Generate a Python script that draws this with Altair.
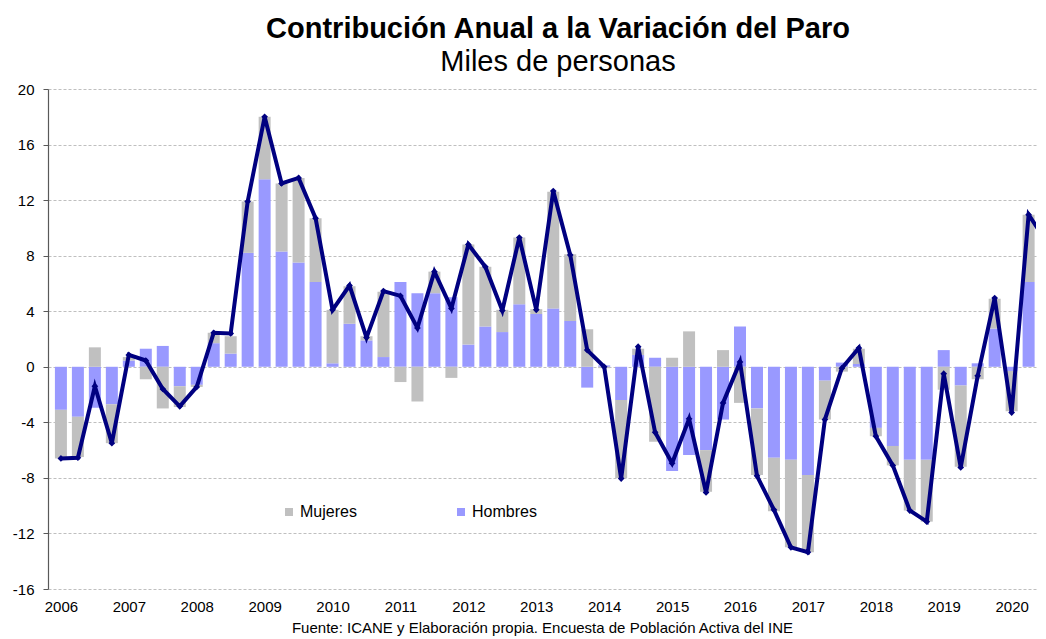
import altair as alt
import pandas as pd

# Quarterly data 2006Q1 .. 2020Q3 (thousands of people)
quarters = [
    "2006T1", "2006T2", "2006T3", "2006T4",
    "2007T1", "2007T2", "2007T3", "2007T4",
    "2008T1", "2008T2", "2008T3", "2008T4",
    "2009T1", "2009T2", "2009T3", "2009T4",
    "2010T1", "2010T2", "2010T3", "2010T4",
    "2011T1", "2011T2", "2011T3", "2011T4",
    "2012T1", "2012T2", "2012T3", "2012T4",
    "2013T1", "2013T2", "2013T3", "2013T4",
    "2014T1", "2014T2", "2014T3", "2014T4",
    "2015T1", "2015T2", "2015T3", "2015T4",
    "2016T1", "2016T2", "2016T3", "2016T4",
    "2017T1", "2017T2", "2017T3", "2017T4",
    "2018T1", "2018T2", "2018T3", "2018T4",
    "2019T1", "2019T2", "2019T3", "2019T4",
    "2020T1", "2020T2", "2020T3",
]

hombres = [
    -3.1, -3.6, -2.95, -2.7,
    0.45, 1.3, 1.5, -1.4,
    -1.3, 1.7, 0.95, 8.2,
    13.5, 8.3, 7.5, 6.1,
    0.25, 3.1, 1.9, 0.7,
    6.1, 5.3, 5.3, 5.0,
    1.6, 2.9, 2.5, 4.5,
    3.8, 4.2, 3.3, -1.5,
    0.1, -2.4, 0.85, 0.65,
    -7.5, -6.35, -6.0, -3.8,
    2.9, -3.0, -6.55, -6.7,
    -7.8, -1.0, 0.3, 0.2,
    -4.4, -5.7, -6.7, -6.7,
    1.2, -1.35, 0.25, 2.75,
    -0.3, 6.1, 4.85,
]

mujeres = [
    -3.5, -2.9, 1.4, -2.8,
    0.25, -0.9, -3.0, -1.5,
    -0.15, 0.75, 1.25, 3.7,
    4.5, 4.9, 6.1, 4.6,
    3.85, 2.7, 0.3, 4.7,
    -1.1, -2.5, 1.55, -0.8,
    7.2, 4.3, 1.6, 4.8,
    0.35, 8.4, 4.8, 2.7,
    -0.1, -5.6, 0.45, -5.4,
    0.65, 2.55, -3.0, 1.2,
    -2.6, -4.8, -3.85, -6.3,
    -5.55, -2.8, -0.35, 1.1,
    -0.6, -1.4, -3.65, -4.45,
    -1.65, -5.85, -0.9, 2.15,
    -2.9, 4.85, 4.25,
]

total = [
    -6.6, -6.55, -1.4, -5.5,
    0.85, 0.45, -1.6, -2.85,
    -1.45, 2.45, 2.4, 11.9,
    18.0, 13.2, 13.6, 10.7,
    4.1, 5.85, 2.1, 5.45,
    5.1, 2.8, 6.85, 4.2,
    8.8, 7.2, 4.05, 9.3,
    4.1, 12.65, 8.05, 1.2,
    0.0, -8.05, 1.45, -4.72,
    -6.95, -3.75, -9.05, -2.6,
    0.35, -7.85, -10.3, -13.0,
    -13.35, -3.8, -0.1, 1.35,
    -5.0, -7.1, -10.35, -11.15,
    -0.5, -7.25, -0.65, 4.95,
    -3.3, 10.95, 9.1,
]

series_names = ["Mujeres", "Hombres"]
series_colors = ["#C0C0C0", "#9999FF"]
year_ticks = list(range(0, 57, 4))

idx = list(range(len(quarters)))
bars = pd.DataFrame({
    "i": idx * 2,
    "trimestre": quarters * 2,
    "sexo": ["Hombres"] * len(idx) + ["Mujeres"] * len(idx),
    "valor": hombres + mujeres,
    "orden": [0] * len(idx) + [1] * len(idx),
})
linea = pd.DataFrame({"i": idx, "trimestre": quarters, "total": total})

FONT = "Liberation Sans"
xscale = alt.Scale(domain=[-0.466, 57.14], nice=False, zero=False)
yscale = alt.Scale(domain=[-16, 20], nice=False)

x_axis = alt.Axis(
    values=year_ticks,
    labelExpr="'' + (2006 + datum.value / 4)",
    grid=False, ticks=False, domain=False,
    labelFontSize=15, labelFont=FONT, labelColor="#000000",
    labelPadding=10,
    title="Fuente: ICANE y Elaboración propia. Encuesta de Población Activa del INE",
    titleFont=FONT, titleFontSize=15, titleFontWeight="normal",
    titleColor="#000000", titlePadding=6,
)
y_axis = alt.Axis(
    values=list(range(-16, 21, 4)),
    labelExpr="'' + datum.value",
    grid=True, gridColor="#BFBFBF", gridDash=[3, 2], gridWidth=1,
    domain=True, domainColor="#595959", domainWidth=1.2,
    ticks=True, tickColor="#595959", tickSize=5,
    labelFontSize=15, labelFont=FONT, labelColor="#000000",
    labelPadding=9, title=None,
)

bar_layer = alt.Chart(bars).mark_bar(size=12, clip=True).encode(
    x=alt.X("i:Q", scale=xscale, axis=x_axis),
    y=alt.Y("valor:Q", scale=yscale, axis=y_axis, stack="zero"),
    color=alt.Color(
        "sexo:N",
        scale=alt.Scale(domain=series_names, range=series_colors),
        legend=alt.Legend(
            title=None, orient="none", direction="horizontal",
            legendX=233, legendY=415, padding=0,
            symbolType="square", symbolSize=64, symbolStrokeWidth=0,
            labelFont=FONT, labelFontSize=16, labelColor="#000000",
            labelOffset=3, columnPadding=96,
        ),
    ),
    order=alt.Order("orden:Q"),
)

line_layer = alt.Chart(linea).mark_line(
    color="#000080", strokeWidth=4, clip=True,
    point=alt.OverlayMarkDef(shape="diamond", size=45, color="#000080", filled=True),
).encode(
    x=alt.X("i:Q", scale=xscale),
    y=alt.Y("total:Q", scale=yscale),
)

chart = alt.layer(bar_layer, line_layer).properties(
    width=988,
    height=500,
    title=alt.TitleParams(
        text="Contribución Anual a la Variación del Paro",
        subtitle="Miles de personas",
        font=FONT, fontSize=29, fontWeight="bold", color="#000000",
        subtitleFont=FONT, subtitleFontSize=29, subtitleColor="#000000",
        subtitleFontWeight="normal", subtitlePadding=4,
        anchor="middle", frame="group", dx=16, offset=5,
    ),
    autosize=alt.AutoSizeParams(type="none"),
    padding={"left": 40, "top": 81, "right": 2, "bottom": 50},
    background="#FFFFFF",
).configure_view(stroke=None)

chart.save("out.html", embed_options={"renderer": "svg", "actions": False})
